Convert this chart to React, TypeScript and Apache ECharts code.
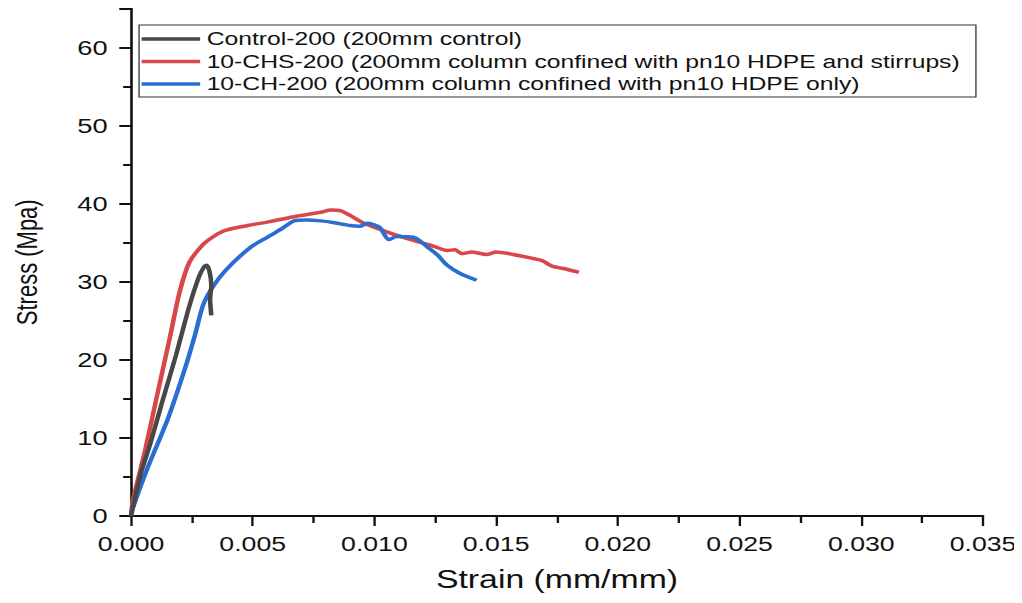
import React, { useEffect, useRef } from "react";
import * as echarts from "echarts";

const controlStrain = [0, 0.00041, 0.00078, 0.0013, 0.00185, 0.0024, 0.0028, 0.003, 0.0031, 0.00322, 0.0033, 0.00325, 0.0033];
const controlStress = [0, 5.5, 9.1, 14.8, 20.6, 26.9, 30.7, 31.9, 32.1, 31.4, 29.5, 27.8, 25.7];

const chsStrain = [0, 0.00008, 0.00058, 0.00107, 0.0016, 0.002, 0.0024, 0.003, 0.0038, 0.0048, 0.0057, 0.0068, 0.0078, 0.0082, 0.0086, 0.009, 0.0095, 0.0106, 0.0116, 0.0123, 0.013, 0.0133, 0.0136, 0.014, 0.0146, 0.015, 0.0157, 0.0165, 0.0169, 0.0173, 0.0179, 0.0184];
const chsStress = [0, 2.0, 8.4, 15.4, 22.9, 28.7, 32.5, 34.9, 36.5, 37.2, 37.7, 38.4, 38.9, 39.2, 39.1, 38.5, 37.6, 36.3, 35.3, 34.7, 34.0, 34.1, 33.6, 33.8, 33.5, 33.8, 33.5, 33.0, 32.7, 32.0, 31.6, 31.2];

const chStrain = [0, 0.00005, 0.0007, 0.00152, 0.00226, 0.00263, 0.00296, 0.00333, 0.0039, 0.0049, 0.0056, 0.0062, 0.0067, 0.0072, 0.0078, 0.0083, 0.009, 0.0094, 0.0097, 0.0102, 0.0106, 0.0109, 0.0116, 0.0122, 0.0126, 0.013, 0.0135, 0.0142];
const chStress = [0, 0.8, 6.3, 12.5, 19.3, 23.2, 27.0, 29.2, 31.5, 34.4, 35.7, 36.8, 37.8, 37.9, 37.8, 37.6, 37.2, 37.1, 37.5, 37.0, 35.4, 35.8, 35.7, 34.4, 33.4, 32.1, 31.1, 30.2];

const seriesNames = [
  "Control-200 (200mm control)",
  "10-CHS-200 (200mm column confined with pn10 HDPE and stirrups)",
  "10-CH-200 (200mm column confined with pn10 HDPE only)",
];
const seriesColors = ["#474747", "#d9474a", "#2b6dd1"];

const xTicks = [0, 0.005, 0.01, 0.015, 0.02, 0.025, 0.03, 0.035];
const yTicks = [0, 10, 20, 30, 40, 50, 60];

const zip = (xs: number[], ys: number[]) => xs.map((x, i) => [x, ys[i]]);

// The reference image is stretched horizontally; reproduce with a CSS scaleX
const STRETCH = 1.3;

export default function App() {
  const ref = useRef<HTMLDivElement>(null);
  useEffect(() => {
    if (!ref.current) return;
    const chart = echarts.init(ref.current, undefined, { renderer: "svg" });
    const font = "Liberation Sans, Arial, sans-serif";
    const data = [zip(controlStrain, controlStress), zip(chsStrain, chsStress), zip(chStrain, chStress)];
    chart.setOption({
      animation: false,
      backgroundColor: "#ffffff",
      grid: { left: 94.6, right: 30, top: 0.5, bottom: 87, containLabel: false, outerBoundsMode: "none" },
      legend: {
        orient: "vertical",
        left: 100.8,
        top: 17,
        itemWidth: 45,
        itemHeight: 3.5,
        itemGap: 1.5,
        padding: [3.5, 12, 2.5, 2],
        borderColor: "#333",
        borderWidth: 1,
        borderRadius: 0,
        icon: "rect",
        textStyle: { fontFamily: font, fontSize: 19, lineHeight: 21, color: "#111" },
        data: seriesNames,
      },
      xAxis: {
        type: "value",
        min: xTicks[0],
        max: xTicks[xTicks.length - 1],
        interval: 0.005,
        name: "Strain (mm/mm)",
        nameLocation: "middle",
        nameGap: 50,
        nameTextStyle: { fontFamily: font, fontSize: 26, color: "#111" },
        axisLine: { lineStyle: { color: "#111", width: 2 } },
        axisTick: { inside: false, length: 10, lineStyle: { color: "#111", width: 1.8 } },
        minorTick: { show: true, splitNumber: 2, length: 7, lineStyle: { color: "#111", width: 1.8 } },
        splitLine: { show: false },
        axisLabel: {
          fontFamily: font,
          fontSize: 20.5,
          color: "#111",
          margin: 17,
          formatter: (v: number) => v.toFixed(3),
        },
      },
      yAxis: {
        type: "value",
        min: yTicks[0],
        max: 65,
        interval: 10,
        name: "Stress (Mpa)",
        nameLocation: "middle",
        nameGap: 69,
        nameTextStyle: { fontFamily: font, fontSize: 22, color: "#111" },
        axisLine: { show: true, lineStyle: { color: "#111", width: 2 } },
        axisTick: { show: true, inside: false, length: 9, lineStyle: { color: "#111", width: 2 } },
        minorTick: { show: true, splitNumber: 2, length: 6, lineStyle: { color: "#111", width: 2 } },
        splitLine: { show: false },
        axisLabel: {
          fontFamily: font,
          fontSize: 21,
          color: "#111",
          margin: 18,
          formatter: (v: number) => (yTicks.includes(v) ? String(v) : ""),
        },
      },
      series: seriesNames.map((name, i) => ({
        name,
        type: "line",
        data: data[i],
        showSymbol: false,
        symbol: "none",
        smooth: 0.25,
        lineStyle: { color: seriesColors[i], width: 3.5 },
        itemStyle: { color: seriesColors[i] },
        z: i === 0 ? 4 : 3,
      })),
    });
    return () => chart.dispose();
  }, []);
  return (
    <div style={{ width: 780, height: 595, transform: `scaleX(${STRETCH})`, transformOrigin: "0 0" }}>
      <div ref={ref} style={{ width: 780, height: 595 }} />
    </div>
  );
}
